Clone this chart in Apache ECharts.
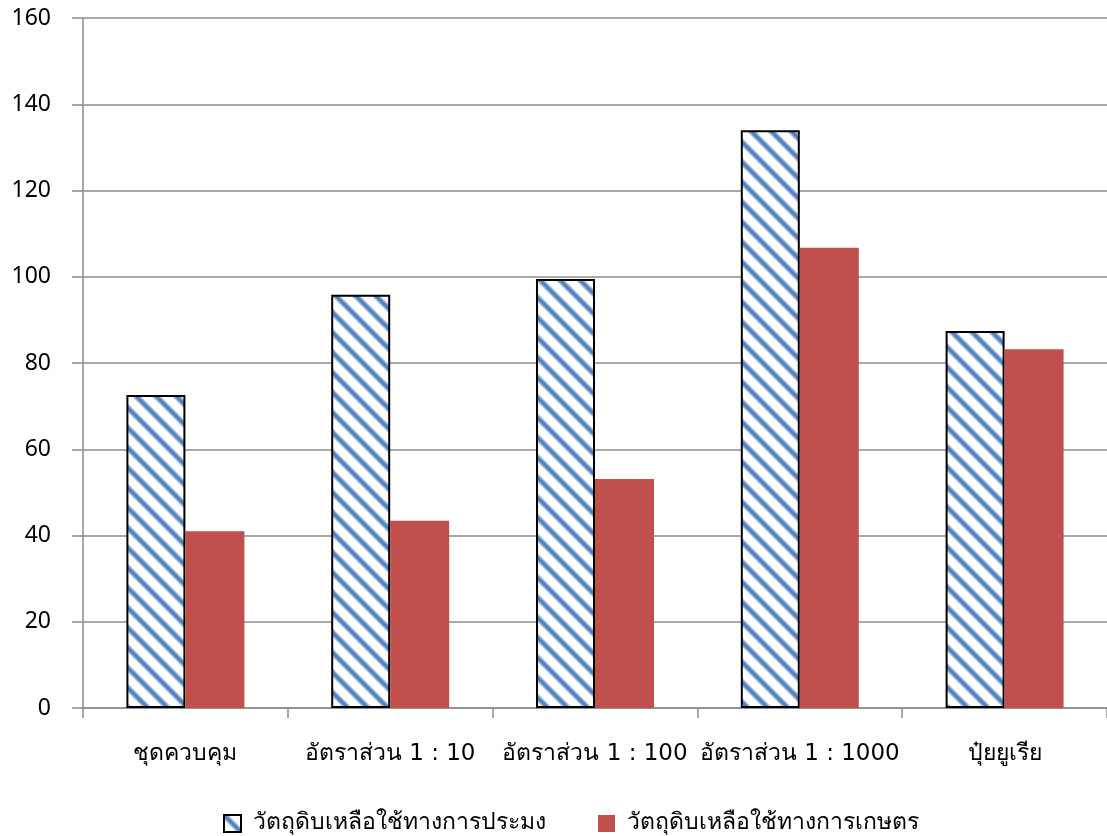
<!DOCTYPE html>
<html>
<head>
<meta charset="utf-8">
<script src="https://cdn.jsdelivr.net/npm/echarts@6/dist/echarts.min.js"></script>
<style>
  html, body { margin: 0; padding: 0; background: #fff; }
  #chart { width: 1107px; height: 836px; }
</style>
</head>
<body>
<div id="chart"></div>
<script>
// Categories and series values
const categories = ['ชุดควบคุม', 'อัตราส่วน 1 : 10', 'อัตราส่วน 1 : 100', 'อัตราส่วน 1 : 1000', 'ปุ๋ยยูเรีย'];
const seriesNames = ['วัตถุดิบเหลือใช้ทางการประมง', 'วัตถุดิบเหลือใช้ทางการเกษตร'];
const fisheryValues = [72.6, 95.8, 99.5, 134.0, 87.4];
const agricultureValues = [41.0, 43.4, 53.1, 106.7, 83.2];
const yTicks = [0, 20, 40, 60, 80, 100, 120, 140, 160];

// Diagonal stripe fill for the first series (soft-edged blue stripes on white)
function stripePattern() {
  const s = 20;
  const c = document.createElement('canvas');
  c.width = s; c.height = s;
  const ctx = c.getContext('2d');
  ctx.fillStyle = '#ffffff';
  ctx.fillRect(0, 0, s, s);
  const passes = [[6.5, '#b9cde8'], [4.5, '#7fa3d2'], [2.5, '#4f81bd']];
  for (const [w, col] of passes) {
    ctx.strokeStyle = col;
    ctx.lineWidth = w;
    ctx.lineCap = 'square';
    for (const off of [-s, 0, s]) {
      ctx.beginPath();
      ctx.moveTo(off, 0);
      ctx.lineTo(off + s, s);
      ctx.stroke();
    }
  }
  return { image: c, repeat: 'repeat' };
}

const font = 'DejaVu Sans, Noto Sans, sans-serif';
const numFont = 'Noto Sans, sans-serif';
const chart = echarts.init(document.getElementById('chart'), null, { renderer: 'canvas' });

chart.setOption({
  animation: false,
  backgroundColor: '#ffffff',
  textStyle: { fontFamily: font },
  grid: { left: 83, right: -6, top: 18, bottom: 128, containLabel: false },
  legend: {
    bottom: -4,
    left: 218,
    itemWidth: 17,
    itemHeight: 17,
    itemGap: 52,
    icon: 'rect',
    textStyle: { fontSize: 23, color: '#000', fontFamily: font, padding: [0, 0, 0, 7] },
    data: seriesNames
  },
  xAxis: {
    type: 'category',
    data: categories,
    axisLine: { show: true, lineStyle: { color: '#8c8c8c', width: 1.5 } },
    axisTick: { show: true, length: 10, alignWithLabel: false, lineStyle: { color: '#8c8c8c', width: 1.5 } },
    axisLabel: { color: '#000', fontSize: 23, margin: 35, fontFamily: font, interval: 0 }
  },
  yAxis: {
    type: 'value',
    min: yTicks[0],
    max: yTicks[yTicks.length - 1],
    interval: 20,
    axisLine: { show: true, lineStyle: { color: '#8c8c8c', width: 1.5 } },
    axisTick: { show: true, length: 11, inside: false, lineStyle: { color: '#8c8c8c', width: 1.5 } },
    axisLabel: { color: '#000', fontSize: 23, margin: 32, fontFamily: numFont },
    splitLine: { show: true, lineStyle: { color: '#8c8c8c', width: 1.5 } }
  },
  series: [
    {
      name: seriesNames[0],
      type: 'bar',
      data: fisheryValues,
      barWidth: 59,
      barGap: '0%',
      itemStyle: { color: stripePattern(), borderColor: '#000', borderWidth: 2 }
    },
    {
      name: seriesNames[1],
      type: 'bar',
      data: agricultureValues,
      barWidth: 59,
      barGap: '0%',
      itemStyle: { color: '#c0504d' }
    }
  ]
});
</script>
</body>
</html>
